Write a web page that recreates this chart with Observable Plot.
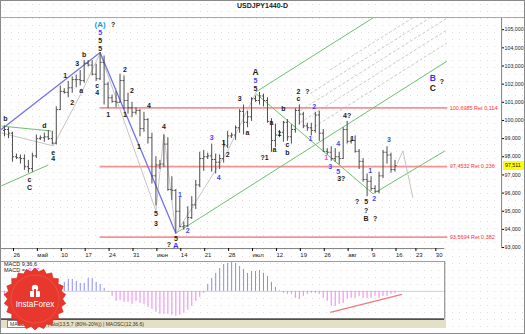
<!DOCTYPE html>
<html><head><meta charset="utf-8">
<script src="https://cdn.jsdelivr.net/npm/d3@7"></script>
<script src="https://cdn.jsdelivr.net/npm/@observablehq/plot@0.6"></script>
<style>
html,body{margin:0;padding:0;background:#fff;}
#wrap{position:relative;width:523px;height:332px;overflow:hidden;border:1px solid #8a8a8a;
 font-family:"Liberation Sans",Arial,sans-serif;background-color:#fefefe;
 background-image:radial-gradient(circle,#e6dcdc 0.6px,transparent 0.9px);background-size:7px 7px;}
#wrap svg{position:absolute;left:0;overflow:visible;}
.t{position:absolute;white-space:nowrap;}
</style></head>
<body><div id="wrap"></div>
<script>
// ---------- data ----------
const tickIdx = [0,6,12,18,24,30,36,42,48,54,60,66,72,78,84,90,96,101,106];
const tickLabels = ["26","май","10","17","24","31","июн","14","21","28","июл","12","19","26","авг","9","16","23","30"];
const yTicks = [93,94,95,96,97,98,99,100,101,102,103,104,105];
const firstBar = -2;
const opens = [99.45,99.50,99.30, 98.00,97.95,97.90,97.45,97.35,98.05, 99.00,99.05,99.10,99.00,98.75,100.60, 101.60,101.55,101.80,102.25,102.25,102.20, 103.15,103.05,102.55,102.30,103.20,102.00, 101.25,101.05,101.00,102.20,101.10,100.70, 100.45,100.55,99.55,100.05,99.05,96.95, 97.55,97.60,98.70,96.20,96.15,95.00, 94.15,94.20,94.65,95.35,96.45,97.90, 98.00,98.05,97.85,97.70,97.90,98.60, 99.15,99.20,99.60,100.50,99.90,100.20, 101.20,101.10,101.35,101.10,99.95,98.90, 99.20,99.35,99.90,99.10,99.50,100.55, 100.35,99.70,99.60,99.45,100.30,99.30, 98.30,98.25,97.90,98.00,97.90,99.50, 98.85,98.90,98.30,97.75,96.75,96.65, 96.25,96.10,96.95,98.25,98.10,97.30];
const highs = [99.70,99.60,99.35, 98.15,98.10,98.10,97.80,98.20,99.20, 99.15,99.30,99.45,99.40,100.75,101.90, 101.75,102.15,102.40,102.50,102.75,103.30, 103.30,103.30,103.10,103.74,103.55,102.10, 101.40,101.60,102.55,102.45,101.50,101.00, 100.70,100.60,100.45,100.10,99.30,98.00, 97.80,99.20,99.05,96.90,96.20,95.75, 94.40,95.25,95.80,96.70,98.25,98.35, 98.20,98.70,98.15,98.10,98.90,99.40, 99.30,99.70,100.60,100.85,100.50,101.25, 101.35,101.54,101.45,101.25,100.10,99.80, 99.45,99.95,100.05,99.75,100.65,100.86, 100.45,99.85,99.85,100.45,100.50,99.50, 98.45,98.55,98.45,98.25,99.60,99.95, 99.05,99.15,98.40,97.90,97.05,96.90, 96.40,97.15,98.35,98.55,98.20,97.80];
const lows = [99.10,99.00,97.70, 97.85,97.60,97.25,97.10,97.15,97.90, 98.90,98.80,98.90,98.65,98.65,100.55, 101.45,101.25,101.50,101.80,101.90,102.05, 102.95,102.45,102.15,102.20,100.85,100.65, 100.95,100.70,100.95,100.60,100.35,100.15, 100.30,99.10,99.35,98.70,96.50,95.30, 97.30,97.40,96.10,95.60,93.79,94.10, 93.95,94.10,94.55,95.10,96.30,97.20, 97.85,97.15,97.05,97.30,97.65,98.45, 99.00,98.90,99.30,99.20,99.60,99.95, 101.00,100.85,100.75,99.85,98.25,98.50, 99.05,98.80,98.85,98.70,99.30,99.75, 99.55,99.40,99.15,99.30,98.85,98.25, 98.10,97.75,97.70,97.55,97.85,98.70, 98.70,98.20,97.30,96.60,95.80,96.10, 96.00,95.95,96.80,97.60,97.10,97.15];
const closes = [99.50,99.30,98.00, 97.95,97.90,97.45,97.35,98.05,99.00, 99.05,99.10,99.00,98.75,100.60,101.60, 101.55,101.80,102.25,102.25,102.20,103.15, 103.05,102.55,102.30,103.20,102.00,101.25, 101.05,101.00,102.20,101.10,100.70,100.45, 100.55,99.55,100.05,99.05,96.95,97.55, 97.60,98.70,96.20,96.15,95.00,94.15, 94.20,94.65,95.35,96.45,97.90,98.00, 98.05,97.85,97.70,97.90,98.60,99.15, 99.20,99.60,100.50,99.90,100.20,101.20, 101.10,101.35,101.10,99.95,98.90,99.20, 99.35,99.90,99.10,99.50,100.55,100.35, 99.70,99.60,99.45,100.30,99.30,98.30, 98.25,97.90,98.00,97.90,99.50,98.85, 98.90,98.30,97.75,96.75,96.65,96.25, 96.10,96.95,98.25,98.10,97.30,97.511];
const macdValues = [-0.5,-0.6,-0.7,-0.8,-0.8,-0.9,-0.9,-0.8,-0.6,-0.5,-0.4,-0.3,-0.2,0.3,0.6,0.9,1.2,1.2,1.0,0.8,0.8,1.3,1.3,0.9,0.7,0.3,-0.1,-0.5,-1.0,-0.9,-1.1,-1.1,-1.3,-1.0,-1.2,-1.3,-1.6,-1.8,-2.1,-2.3,-2.3,-2.3,-2.4,-2.5,-2.4,-2.2,-1.9,-1.5,-1.0,-0.6,-0.2,0.7,1.3,1.8,2.3,2.7,2.8,2.9,2.8,2.5,2.2,1.8,2.0,2.0,2.1,1.8,1.5,0.9,0.4,0.05,-0.2,-0.3,-0.3,-0.7,-0.8,-0.5,-0.3,-0.2,-0.2,-0.3,-0.7,-1.0,-1.5,-1.5,-1.3,-1.2,-0.8,-0.7,-0.7,-0.5,-0.7,-0.7,-0.7,-0.5,-0.7,-0.5,-0.5,-0.3,-0.2];
const fibLevels = [100.6985, 97.4532, 93.5694];
const fibRatios = ["0,114", "0,236", "0,382"];
const fibStart = 22, fibEnd = 109.25;
const bluePath = [[-2.75, 99.51], [22, 103.74], [41, 93.79]];
const greenSegs = [
  [-2.75, 99.69, 9.75, 99.42], [-2.75, 96.40, 9, 97.55],
  [41, 93.79, 109, 103.26], [61, 101.56, 109, 108.22],
  [61, 101.50, 90.5, 95.96], [90.5, 95.96, 108.5, 98.32]
];
const graySegs = [
  [-2.75, 99.31, 10.25, 98.60], [10.25, 98.60, 17.25, 101.50], [17.25, 101.50, 22, 103.70],
  [22, 103.70, 36, 95.03], [36, 95.03, 38, 99.26], [38, 99.26, 41, 93.77],
  [41, 93.77, 54, 98.32], [54, 98.32, 61, 101.50],
  [96.5, 97.61, 98, 98.32], [98, 98.32, 100.5, 95.74]
];
const dashedSegs = [
  [79.75, 102.79, 109, 106.84], [74.75, 101.49, 109, 106.24], [72.25, 100.54, 109, 105.63],
  [72.25, 99.89, 109, 104.98], [74.75, 99.51, 109, 104.26]
];
const macdDivergence = [79.75, -2.1, 97.75, -0.3];
const waves = [
 [22,105.29,"(A)","cyan"],[25.25,105.29,"?","k"],[22,104.85,"5","b"],[22,104.41,"5","k"],[22,103.97,"5","k"],
 [18,103.64,"b","k"],[16.25,103.10,"3","k"],[13.25,102.44,"1","k"],[17.25,101.61,"a","k"],[15,100.96,"2","k"],
 [21.25,101.89,"c","k"],[21.25,101.50,"4","k"],[28.25,102.77,"2","k"],[30,101.61,"2","k"],[24,100.30,"1","k"],
 [28.25,100.30,"1","k"],[34.25,100.79,"4","k"],[38,99.64,"4","k"],[-1.75,100.08,"b","k"],[8,99.69,"d","k"],
 [10.25,98.21,"e","k"],[10.25,97.88,"4","k"],[4.25,96.73,"c","k"],[4.25,96.29,"C","k"],[31.75,98.54,"1","k"],
 [36,94.87,"5","k"],[36,94.32,"3","k"],[42,95.91,"1","b"],[44,93.93,"2","b"],[41,93.49,"5","k"],
 [39.25,93.16,"?","k"],[41,93.05,"A","bigb"],[50,99.04,"3","b"],[51.75,96.84,"4","b"],[53,98.76,"1","k"],
 [54,98.10,"2","k"],[61,102.66,"A","big"],[61,102.16,"5","b"],[61,101.72,"5","k"],[57,101.18,"3","k"],
 [59,99.31,"a","k"],[65,99.86,"a","k"],[67,99.26,"1","k"],[63.25,97.94,"?1","k"],[65.75,98.38,"a","k"],
 [69,98.65,"c","k"],[69,98.21,"b","k"],[68,100.63,"b","k"],[71.75,101.56,"2","k"],[74,101.56,"?","k"],
 [71.75,101.18,"c","k"],[75.75,100.74,"2","b"],[74.75,98.98,"1","b"],[78.75,97.94,"1","p"],[79.75,97.44,"3","b"],
 [81.75,98.71,"4","b"],[81.75,97.17,"5","b"],[82.5,96.79,"3?","k"],[84,100.24,"4?","k"],[85.25,98.98,"1","k"],
 [86.5,95.52,"?","k"],[88.75,95.52,"5","k"],[88.75,95.03,"?","k"],[88.75,94.59,"B","k"],[91,94.59,"?","k"],
 [89.75,97.22,"1","b"],[90.75,95.69,"2","b"],[94.5,98.93,"3","b"],[105.5,102.33,"B","bigb"],[107.75,102.11,"?","k"],
 [105.5,101.78,"C","big"]
];
// ---------- derived ----------
const xDomain = [-2.75, 122.75];
const axisEnd = 108.5;
const yDomain = [92.945, 105.62];
const bars = opens.map((o,k)=>({i:firstBar+k,o,h:highs[k],l:lows[k],c:closes[k]}));
const macd = macdValues.map((v,k)=>({i:firstBar+k,v}));
const tickMap = new Map(tickIdx.map((d,k)=>[d,tickLabels[k]]));
const comma4 = d => d3.format(".4f")(d).replace(".", ",");
const comma3 = d => d3.format(".3f")(d).replace(".", ",");
const seg = a => ({x1:a[0],y1:a[1],x2:a[2],y2:a[3]});
const kindColor = {k:"#1c1c1c", b:"#4646ff", cyan:"#1e9be0", p:"#ff40ff", big:"#1c1c1c", bigb:"#3030ff"};
const kindSize = {k:7, b:7, cyan:8, p:7, big:8.5, bigb:8.5};
const waveData = waves.map(w=>({i:w[0],p:w[1],t:w[2],kind:w[3]}));
const font = "Liberation Sans, Arial, sans-serif";
const wrap = document.getElementById("wrap");

const main = Plot.plot({
  width:525, height:262, marginTop:17, marginBottom:14, marginLeft:0, marginRight:23,
  x:{domain:xDomain}, y:{domain:yDomain},
  style:{background:"transparent", fontFamily:font, fontSize:"6px", overflow:"visible"},
  marks:[
    Plot.link(dashedSegs.map(seg), {x1:"x1",y1:"y1",x2:"x2",y2:"y2", stroke:"#c4c4c4", strokeWidth:0.9, strokeDasharray:"3,2", clip:true}),
    Plot.ruleY(fibLevels, {x1:fibStart, x2:fibEnd, stroke:"#f39494", strokeWidth:1.7}),
    Plot.link(greenSegs.map(seg), {x1:"x1",y1:"y1",x2:"x2",y2:"y2", stroke:"#6cc06c", strokeWidth:1, clip:true}),
    Plot.link(graySegs.map(seg), {x1:"x1",y1:"y1",x2:"x2",y2:"y2", stroke:"#c3bcbc", strokeWidth:0.9, clip:true}),
    Plot.line(bluePath, {x:d=>d[0], y:d=>d[1], stroke:"#7272ee", strokeWidth:1.3, clip:true}),
    Plot.ruleX(bars, {x:"i", y1:"l", y2:"h", stroke:"#4c4c4c", strokeWidth:1}),
    Plot.link(bars, {x1:d=>d.i-0.4, x2:"i", y1:"o", y2:"o", stroke:"#4c4c4c"}),
    Plot.link(bars, {x1:"i", x2:d=>d.i+0.4, y1:"c", y2:"c", stroke:"#4c4c4c"}),
    Plot.text(fibLevels, {x:fibEnd+0.5, y:d=>d, text:(d,k)=>`${comma4(d)} Ret ${fibRatios[k]}`, textAnchor:"start", fill:"#ff3030", fontSize:5.5}),
    ...Object.keys(kindColor).map(kind => Plot.text(waveData.filter(d=>d.kind===kind), {x:"i", y:"p", text:"t", fill:kindColor[kind], fontSize:kindSize[kind], fontWeight:"bold"})),
    Plot.ruleX([xDomain[1]], {stroke:"#808080"}),
    Plot.ruleY([yDomain[0]], {x1:xDomain[0], x2:axisEnd, stroke:"#808080"}),
    Plot.axisY(yTicks, {anchor:"right", tickSize:2, tickPadding:1, tickFormat:comma3, fill:"#222", fontSize:5.3}),
    Plot.axisX(tickIdx, {anchor:"bottom", tickSize:3, tickPadding:1, tickFormat:d=>tickMap.get(d), textAnchor:"start", dx:1, fill:"#222"})
  ]
});
main.style.top = "0px";
wrap.appendChild(main);

const macdPlot = Plot.plot({
  width:525, height:58, marginTop:0, marginBottom:0, marginLeft:0, marginRight:80,
  x:{domain:[xDomain[0], axisEnd], axis:null}, y:{domain:[-2.8, 3.0], axis:null},
  style:{background:"transparent", overflow:"visible"},
  marks:[
    Plot.ruleY([0], {stroke:"#cfcfe6"}),
    Plot.ruleX(macd.filter(d=>d.v>=0), {x:"i", y1:0, y2:"v", stroke:"#8a8af0"}),
    Plot.ruleX(macd.filter(d=>d.v<0), {x:"i", y1:0, y2:"v", stroke:"#ee82ee"}),
    Plot.link([seg(macdDivergence)], {x1:"x1",y1:"y1",x2:"x2",y2:"y2", stroke:"#f07a7a", strokeWidth:1.3}),
    Plot.ruleY([3.0], {stroke:"#9a9a9a"}),
    Plot.ruleY([-2.8], {stroke:"#505050", strokeWidth:2}),
    Plot.ruleX([axisEnd], {stroke:"#7a7a7a"})
  ]
});
macdPlot.style.top = "260px";
wrap.appendChild(macdPlot);

// title & frame lines
function addDiv(style, html){const d=document.createElement("div");d.className="t";d.style.cssText=style;d.innerHTML=html||"";wrap.appendChild(d);return d;}
addDiv("left:0;top:1px;width:523px;text-align:center;font:bold 7px "+font+";color:#222", "USDJPY1440-D");
addDiv("left:0;top:16px;width:523px;height:1px;background:#a8a8a8");
// current price box
const yPrice = main.scale("y").apply(closes[closes.length-1]);
addDiv(`left:502px;top:${yPrice-4.5}px;width:21px;height:9px;background:#ffff00;font:5.3px ${font};line-height:9px;padding-left:2px;box-sizing:border-box;color:#111`, comma3(closes[closes.length-1]));
// MACD labels
addDiv("left:3px;top:260px;font:5.5px "+font+";color:#222", "MACD 9,36,6");
addDiv("left:3px;top:266px;font:5.5px "+font+";color:#222", "MACD = <span style='color:#ff30ff'>-0,07</span>");
// tab bar
addDiv("left:0;top:319px;width:445px;height:8px;background:#e4e0c6;font:5px "+font+";line-height:8px;color:#333;padding-left:6px;box-sizing:border-box", "<span style='background:#fff;border:1px solid #888;padding:0 2px'>MACD</span> RSI(14) | Sto(13,5,7 (80%-20%)) | MAOSC(12,36,6)");

// InstaForex logo (decoration)
const NS="http://www.w3.org/2000/svg";
const logo=document.createElementNS(NS,"svg");
logo.setAttribute("width","64");logo.setAttribute("height","64");
logo.style.cssText="position:absolute;left:2px;top:266px";
let pts=[];const n=22;
for(let k=0;k<2*n;k++){const r=k%2?27.5:31;const a=Math.PI*k/n-Math.PI/2;pts.push((32+r*Math.cos(a)).toFixed(1)+","+(32+r*Math.sin(a)).toFixed(1));}
logo.innerHTML=`<polygon points="${pts.join(" ")}" fill="#e8372c" stroke="#c92a22" stroke-width="0.6"/>
<circle cx="32" cy="32" r="24" fill="none" stroke="#f06058" stroke-width="0.6"/>
<g fill="#fff"><circle cx="32" cy="21" r="3.2"/><rect x="27" y="24" width="10" height="6" rx="1"/><rect x="31" y="22" width="2" height="9" fill="#e8372c"/></g>
<text x="32" y="40" text-anchor="middle" font-family="${font}" font-size="8.2" fill="#fff">InstaForex</text>`;
wrap.appendChild(logo);
</script>
</body></html>
